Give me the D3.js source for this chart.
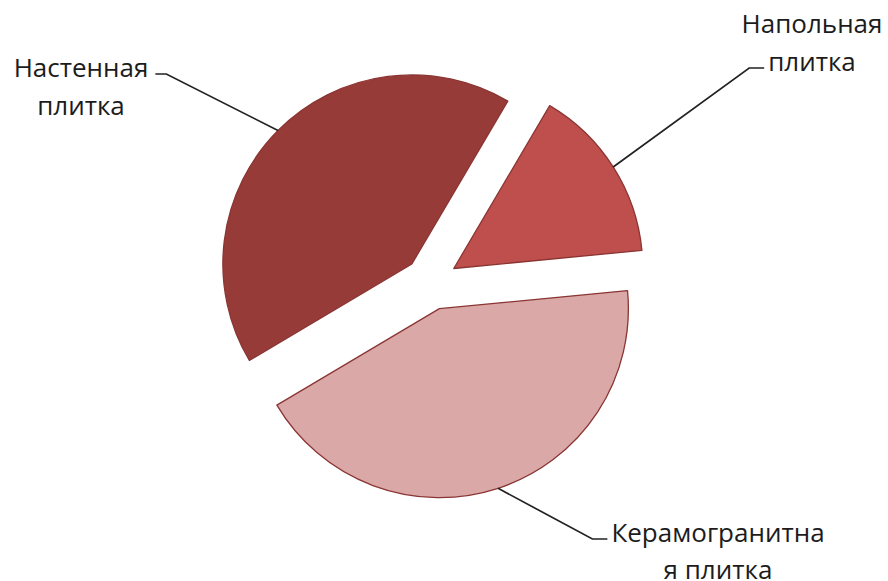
<!DOCTYPE html>
<html>
<head>
<meta charset="utf-8">
<script src="https://cdn.jsdelivr.net/npm/d3@7"></script>
<style>
  html, body { margin: 0; padding: 0; background: #fff; }
  svg { display: block; }
  .lbl { font-family: "Open Sans", "Noto Sans", sans-serif; font-size: 26px; fill: #1c1c1c; }
</style>
</head>
<body>
<div id="chart"></div>
<script>
"use strict";

// data
const categories = ["Напольная плитка", "Керамогранитная плитка", "Настенная плитка"];
const shares = [15, 43, 42];
const labelLines = [["Напольная", "плитка"], ["Керамогранитна", "я плитка"], ["Настенная", "плитка"]];
const colors = ["#be4f4c", "#d9a8a7", "#963b38"];

const W = 888, H = 581;
const cx = 431, cy = 283, radius = 189, explode = 27;
const startDeg = 30.5;

// label placement: anchor x, first baseline, line height, which line the leader meets
const labelPos = [
  {x: 812, y: 33, lh: 38, line: 1, side: "left"},
  {x: 718, y: 542, lh: 37, line: 0, side: "left"},
  {x: 81,  y: 77, lh: 38, line: 0, side: "right"}
];

const svg = d3.select("#chart").append("svg")
  .attr("width", W).attr("height", H)
  .attr("viewBox", `0 0 ${W} ${H}`);

const pie = d3.pie().sort(null).value(d => d)
  .startAngle(startDeg * Math.PI / 180)
  .endAngle(startDeg * Math.PI / 180 + 2 * Math.PI);
const arcs = pie(shares);

const arc = d3.arc().innerRadius(0).outerRadius(radius);
const rim = d3.arc().innerRadius(radius).outerRadius(radius);

const offset = d => {
  const a = (d.startAngle + d.endAngle) / 2;
  return [explode * Math.sin(a), -explode * Math.cos(a)];
};

const g = svg.append("g").attr("transform", `translate(${cx},${cy})`);

g.selectAll("path.slice")
  .data(arcs)
  .enter()
  .append("path")
  .attr("class", "slice")
  .attr("transform", d => `translate(${offset(d)})`)
  .attr("d", arc)
  .attr("fill", (d, i) => colors[i])
  .attr("stroke", "#8a3533")
  .attr("stroke-width", 1.3)
  .attr("stroke-linejoin", "round");

// labels + leader lines
arcs.forEach((d, i) => {
  const p = labelPos[i];
  const [ox, oy] = offset(d);
  const [rx, ry] = rim.centroid(d);
  const tip = [cx + ox + rx, cy + oy + ry];

  const t = svg.append("text").attr("class", "lbl").attr("text-anchor", "middle");
  labelLines[i].forEach((s, k) => {
    t.append("tspan").attr("x", p.x).attr("y", p.y + k * p.lh).text(s);
  });

  const span = t.selectAll("tspan").nodes()[p.line];
  const bb = span.getBBox();
  const ly = p.y + p.line * p.lh - 3;
  let x0, x1;
  if (p.side === "left") { x0 = bb.x - 4; x1 = x0 - 15; }
  else { x0 = bb.x + bb.width + 7; x1 = x0 + 11; }

  svg.append("path")
    .attr("d", d3.line()([[x0, ly], [x1, ly], tip]))
    .attr("fill", "none")
    .attr("stroke", "#222")
    .attr("stroke-width", 1.7);
});
</script>
</body>
</html>
